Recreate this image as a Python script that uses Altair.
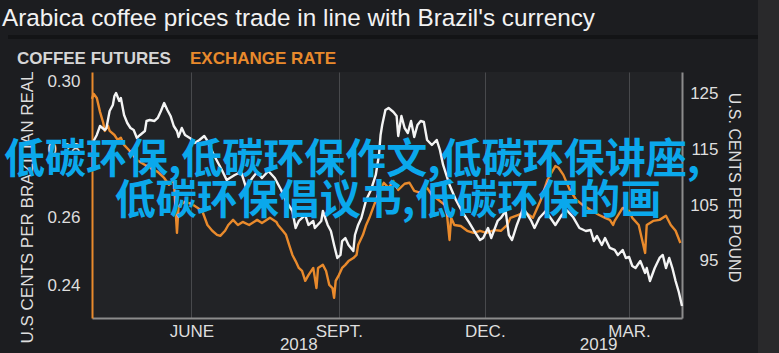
import altair as alt
import pandas as pd

TITLE = "Arabica coffee prices trade in line with Brazil's currency"
HEAD_COFFEE = "COFFEE FUTURES"
HEAD_FX = "EXCHANGE RATE"
OVERLAY_1 = "低碳环保,低碳环保作文,低碳环保讲座,"
OVERLAY_2 = "低碳环保倡议书,低碳环保的画"

# Exchange rate (U.S. cents per Brazilian real) - left axis, orange
fx_dates = [
    "2018-03-31", "2018-04-01", "2018-04-03", "2018-04-05", "2018-04-07", "2018-04-08",
    "2018-04-10", "2018-04-11", "2018-04-14", "2018-04-16", "2018-04-18", "2018-04-20",
    "2018-04-23", "2018-04-28", "2018-05-01", "2018-05-06", "2018-05-11", "2018-05-15",
    "2018-05-18", "2018-05-21", "2018-05-23", "2018-05-24", "2018-05-28", "2018-06-01",
    "2018-06-05", "2018-06-08", "2018-06-11", "2018-06-14", "2018-06-17", "2018-06-19",
    "2018-06-22", "2018-06-24", "2018-06-27", "2018-06-30", "2018-07-03", "2018-07-07",
    "2018-07-12", "2018-07-15", "2018-07-20", "2018-07-24", "2018-07-25", "2018-07-28",
    "2018-07-30", "2018-08-01", "2018-08-03", "2018-08-05", "2018-08-07", "2018-08-09",
    "2018-08-11", "2018-08-13", "2018-08-16", "2018-08-18", "2018-08-19", "2018-08-22",
    "2018-08-24", "2018-08-26", "2018-08-28", "2018-08-29", "2018-08-30", "2018-09-01",
    "2018-09-03", "2018-09-05", "2018-09-07", "2018-09-10", "2018-09-12", "2018-09-13",
    "2018-09-16", "2018-09-18", "2018-09-20", "2018-09-23", "2018-09-26", "2018-09-29",
    "2018-10-02", "2018-10-05", "2018-10-08", "2018-10-12", "2018-10-15", "2018-10-18",
    "2018-10-22", "2018-10-26", "2018-10-29", "2018-11-02", "2018-11-06", "2018-11-07",
    "2018-11-09", "2018-11-10", "2018-11-12", "2018-11-16", "2018-11-20", "2018-11-24",
    "2018-11-28", "2018-12-02", "2018-12-07", "2018-12-11", "2018-12-15", "2018-12-17",
    "2018-12-22", "2018-12-26", "2018-12-31", "2019-01-05", "2019-01-09", "2019-01-14",
    "2019-01-16", "2019-01-19", "2019-01-23", "2019-01-27", "2019-01-31", "2019-02-05",
    "2019-02-10", "2019-02-14", "2019-02-17", "2019-02-19", "2019-02-20", "2019-02-25",
    "2019-03-01", "2019-03-03", "2019-03-07", "2019-03-11", "2019-03-12", "2019-03-16",
    "2019-03-20", "2019-03-24", "2019-03-27", "2019-03-30", "2019-04-02",
]
fx_values = [
    0.2949, 0.2964, 0.2952, 0.2911, 0.2879, 0.2855,
    0.2870, 0.2855, 0.2843, 0.2829, 0.2835, 0.2814,
    0.2799, 0.2770, 0.2761, 0.2747, 0.2735, 0.2717,
    0.2697, 0.2711, 0.2556, 0.2635, 0.2647, 0.2641,
    0.2629, 0.2617, 0.2579, 0.2562, 0.2550, 0.2547,
    0.2562, 0.2579, 0.2594, 0.2579, 0.2588, 0.2579,
    0.2594, 0.2585, 0.2600, 0.2588, 0.2579, 0.2562,
    0.2550, 0.2520, 0.2491, 0.2473, 0.2453, 0.2444,
    0.2415, 0.2432, 0.2453, 0.2394, 0.2453, 0.2462,
    0.2444, 0.2403, 0.2394, 0.2365, 0.2415, 0.2432,
    0.2453, 0.2462, 0.2473, 0.2482, 0.2491, 0.2520,
    0.2550, 0.2579, 0.2600, 0.2638, 0.2676, 0.2703,
    0.2688, 0.2708, 0.2682, 0.2700, 0.2703, 0.2679,
    0.2673, 0.2688, 0.2667, 0.2653, 0.2638, 0.2629,
    0.2535, 0.2600, 0.2579, 0.2576, 0.2562, 0.2556,
    0.2562, 0.2556, 0.2564, 0.2562, 0.2579, 0.2600,
    0.2609, 0.2617, 0.2600, 0.2653, 0.2711, 0.2752,
    0.2747, 0.2726, 0.2682, 0.2653, 0.2638, 0.2623,
    0.2609, 0.2600, 0.2594, 0.2579, 0.2591, 0.2629,
    0.2620, 0.2600, 0.2579, 0.2497, 0.2579, 0.2591,
    0.2594, 0.2606, 0.2579, 0.2562, 0.2526,
]

# Coffee futures (U.S. cents per pound) - right axis, white
coffee_dates = [
    "2018-04-01", "2018-04-03", "2018-04-05", "2018-04-08", "2018-04-09", "2018-04-11",
    "2018-04-13", "2018-04-14", "2018-04-15", "2018-04-17", "2018-04-18", "2018-04-20",
    "2018-04-22", "2018-04-24", "2018-04-26", "2018-04-28", "2018-04-30", "2018-05-03",
    "2018-05-04", "2018-05-06", "2018-05-09", "2018-05-11", "2018-05-13", "2018-05-15",
    "2018-05-17", "2018-05-19", "2018-05-21", "2018-05-23", "2018-05-24", "2018-05-26",
    "2018-05-28", "2018-05-31", "2018-06-02", "2018-06-03", "2018-06-06", "2018-06-09",
    "2018-06-11", "2018-06-15", "2018-06-20", "2018-06-23", "2018-06-28", "2018-07-02",
    "2018-07-05", "2018-07-09", "2018-07-12", "2018-07-15", "2018-07-19", "2018-07-23",
    "2018-07-27", "2018-07-30", "2018-08-03", "2018-08-05", "2018-08-07", "2018-08-11",
    "2018-08-13", "2018-08-16", "2018-08-17", "2018-08-21", "2018-08-22", "2018-08-25",
    "2018-08-27", "2018-08-29", "2018-08-31", "2018-09-02", "2018-09-03", "2018-09-05",
    "2018-09-07", "2018-09-10", "2018-09-11", "2018-09-13", "2018-09-15", "2018-09-18",
    "2018-09-21", "2018-09-24", "2018-09-26", "2018-09-27", "2018-09-28", "2018-09-30",
    "2018-10-02", "2018-10-05", "2018-10-07", "2018-10-08", "2018-10-10", "2018-10-12",
    "2018-10-14", "2018-10-16", "2018-10-18", "2018-10-20", "2018-10-22", "2018-10-24",
    "2018-10-26", "2018-10-29", "2018-11-01", "2018-11-03", "2018-11-05", "2018-11-09",
    "2018-11-13", "2018-11-17", "2018-11-21", "2018-11-24", "2018-11-28", "2018-11-30",
    "2018-12-03", "2018-12-05", "2018-12-09", "2018-12-11", "2018-12-14", "2018-12-16",
    "2018-12-18", "2018-12-21", "2018-12-25", "2018-12-30", "2019-01-01", "2019-01-04",
    "2019-01-08", "2019-01-11", "2019-01-14", "2019-01-18", "2019-01-21", "2019-01-25",
    "2019-01-29", "2019-02-02", "2019-02-05", "2019-02-07", "2019-02-09", "2019-02-12",
    "2019-02-14", "2019-02-17", "2019-02-20", "2019-02-22", "2019-02-25", "2019-02-27",
    "2019-03-01", "2019-03-03", "2019-03-05", "2019-03-08", "2019-03-11", "2019-03-12",
    "2019-03-14", "2019-03-17", "2019-03-20", "2019-03-22", "2019-03-24", "2019-03-26",
    "2019-03-28", "2019-03-30", "2019-04-01", "2019-04-03",
]
coffee_values = [
    116.56, 117.64, 119.25, 118.53, 118.89, 121.95,
    123.02, 124.64, 125.18, 123.74, 124.28, 121.23,
    119.79, 118.89, 118.53, 117.10, 117.64, 118.35,
    120.15, 120.33, 120.15, 120.69, 121.95, 123.38,
    122.13, 121.05, 119.25, 118.35, 117.28, 118.89,
    117.64, 117.10, 116.56, 116.20, 116.74, 117.46,
    116.56, 114.04, 111.35, 109.55, 110.45, 110.99,
    108.29, 109.91, 110.99, 109.91, 111.17, 109.91,
    107.76, 105.78, 103.98, 100.93, 102.19, 103.26,
    101.47, 102.19, 100.93, 102.19, 103.98, 101.47,
    100.39, 97.88, 95.54, 96.08, 98.59, 99.13,
    97.88, 96.80, 99.67, 101.47, 102.73, 105.96,
    107.76, 110.45, 114.04, 117.64, 119.43, 122.13,
    122.49, 121.77, 121.05, 117.46, 121.05, 118.89,
    117.99, 120.15, 117.28, 119.43, 120.15, 119.97,
    116.74, 115.84, 116.74, 114.94, 112.25, 108.65,
    105.96, 103.80, 102.01, 100.57, 98.77, 99.13,
    100.93, 99.13, 102.19, 102.73, 103.98, 99.67,
    98.77, 101.47, 104.52, 102.19, 100.93, 102.73,
    103.98, 102.73, 101.47, 103.26, 104.16, 102.91,
    100.93, 100.39, 100.57, 98.59, 99.49, 97.88,
    99.13, 97.34, 96.98, 96.08, 96.98, 95.54,
    95.72, 94.10, 93.74, 95.00, 92.85, 93.74,
    91.41, 93.74, 95.54, 96.08, 93.74, 95.54,
    93.74, 91.41, 89.43, 86.92,
]

fx_ticks = [0.24, 0.26, 0.28, 0.30]
coffee_ticks = [95, 105, 115, 125]
month_ticks = ["2018-06-01", "2018-09-01", "2018-12-01", "2019-03-01"]
month_labels = ["JUNE", "SEPT.", "DEC.", "MAR."]
year_labels = ["2018", "2019"]
year_label_dates = ["2018-08-07", "2019-02-10"]

ORANGE = "#e98a2c"
WHITE = "#f4f4f4"
LABEL = "#dedede"
FONT = "Liberation Sans"

fx_df = pd.DataFrame({"date": pd.to_datetime(fx_dates), "rate": fx_values})
coffee_df = pd.DataFrame({"date": pd.to_datetime(coffee_dates), "price": coffee_values})
year_df = pd.DataFrame({"date": pd.to_datetime(year_label_dates), "label": year_labels})

def dt(s):
    t = pd.Timestamp(s)
    return alt.DateTime(year=t.year, month=t.month, date=t.day)

label_expr = " : ".join(
    f"month(datum.value) == {pd.Timestamp(d).month - 1} ? '{l}'" for d, l in zip(month_ticks, month_labels)
) + " : ''"

x_axis = alt.Axis(
    values=[dt(d) for d in month_ticks], labelExpr=label_expr, title=None,
    grid=True, gridColor="#48494c", gridWidth=1, ticks=False,
    domainColor="#8c8c8c", domainWidth=2, labelColor=LABEL, labelFontSize=17,
    labelFont=FONT, labelPadding=5, labelFlush=False,
)
x_enc = alt.X(
    "date:T",
    scale=alt.Scale(domain=[dt("2018-03-31"), dt("2019-04-03")]),
    axis=x_axis,
)

fx_line = alt.Chart(fx_df).mark_line(color=ORANGE, strokeWidth=2.4, strokeJoin="round").encode(
    x=x_enc,
    y=alt.Y(
        "rate:Q",
        scale=alt.Scale(domain=[0.2306, 0.3028], nice=False, zero=False),
        axis=alt.Axis(
            orient="left", values=fx_ticks, format=".2f", grid=False, ticks=False,
            domainColor=ORANGE, domainWidth=2, labelColor=LABEL, labelFontSize=17,
            labelFont=FONT, labelPadding=12,
            title="U.S CENTS PER BRAZILIAN REAL", titleColor=LABEL, titleFont=FONT,
            titleFontSize=17, titleFontWeight="normal", titleAngle=270,
            titleX=-65, titleY=135, titleAlign="center", titleBaseline="middle",
        ),
    ),
)

coffee_line = alt.Chart(coffee_df).mark_line(color=WHITE, strokeWidth=2.4, strokeJoin="round").encode(
    x=x_enc,
    y=alt.Y(
        "price:Q",
        scale=alt.Scale(domain=[84.76, 128.95], nice=False, zero=False),
        axis=alt.Axis(
            orient="right", values=coffee_ticks, grid=False, ticks=False,
            domainColor="#8c8c8c", domainWidth=2, labelColor=LABEL, labelFontSize=17,
            labelFont=FONT, labelAlign="right", labelPadding=36,
            title="U.S. CENTS PER POUND", titleColor=LABEL, titleFont=FONT,
            titleFontSize=16, titleFontWeight="normal", titleAngle=90,
            titleX=51, titleY=115, titleAlign="center", titleBaseline="middle",
        ),
    ),
)

years = alt.Chart(year_df).mark_text(
    color=LABEL, fontSize=17, font=FONT, baseline="middle", align="center"
).encode(x=x_enc, y=alt.value(273), text="label:N")

def label(text, x, y, color, size, weight="normal", font=FONT, align="left", baseline="middle"):
    return alt.Chart(pd.DataFrame({"t": [text]})).mark_text(
        color=color, fontSize=size, fontWeight=weight, font=font, align=align, baseline=baseline
    ).encode(text="t:N", x=alt.value(x), y=alt.value(y))

def band(x1, x2, y1, y2, color):
    return alt.Chart(pd.DataFrame({"k": [0]})).mark_rect(color=color).encode(
        x=alt.value(x1), x2=alt.value(x2), y=alt.value(y1), y2=alt.value(y2)
    )

side_strip = band(666, 687, -72, 281, "#29292b")
sep_band = band(-84, 666, -37, -33, "#131416")

title = label(TITLE, -90, -46, "#f2f2f2", 24.3, font="Liberation Sans Narrow, Liberation Sans", baseline="alphabetic")
head1 = label(HEAD_COFFEE, -75, -13, "#d6d6d6", 17, weight="bold")
head2 = label(HEAD_FX, 98, -13, ORANGE, 17, weight="bold")
over1 = label(OVERLAY_1, 260, 89, "#0aa8ec", 41, weight="bold", font="Noto Sans CJK SC", align="center")
over2 = label(OVERLAY_2, 296, 130, "#0aa8ec", 41, weight="bold", font="Noto Sans CJK SC", align="center")

chart = (
    alt.layer(side_strip, sep_band, fx_line, coffee_line, years, title, head1, head2, over1, over2)
    .resolve_scale(y="independent")
    .properties(
        width=590, height=246,
        autosize=alt.AutoSizeParams(type="none"),
        padding={"left": 92, "top": 72, "right": 97, "bottom": 35},
        background="#1c1d20",
    )
    .configure_view(fill="#222326", strokeWidth=0)
)

chart.save("out.html", embed_options={"renderer": "svg", "actions": False})
